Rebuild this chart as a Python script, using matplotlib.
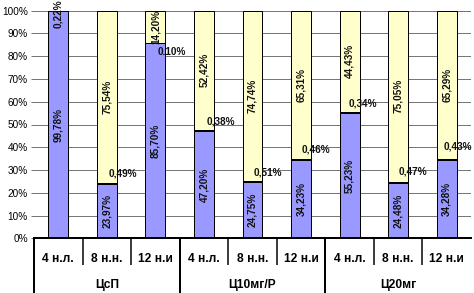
import matplotlib
matplotlib.use('Agg')
import matplotlib.pyplot as plt
from matplotlib import font_manager
import numpy as np

font_manager.fontManager.ttflist = [f for f in font_manager.fontManager.ttflist
                                    if 'narrow' not in f.fname.lower()]
plt.rcParams['font.family'] = ['Liberation Sans', 'DejaVu Sans']

groups = ['ЦсП', 'Ц10мг/Р', 'Ц20мг']
weeks = ['4 н.л.', '8 н.н.', '12 н.и']
blue = [99.78, 23.97, 85.70, 47.20, 24.75, 34.23, 55.23, 24.48, 34.28]
mid = [0.22, 0.49, 0.10, 0.38, 0.51, 0.46, 0.34, 0.47, 0.43]
yellow = [0.00, 75.54, 14.20, 52.42, 74.74, 65.31, 44.43, 75.05, 65.29]
yticks = [0, 10, 20, 30, 40, 50, 60, 70, 80, 90, 100]

# label offsets (pixels) for the middle series labels, as in the reference
mid_offsets = [(0, -3), (16.5, 9.5), (16, -9.4), (17, 8.7), (15.6, 8.8),
               (15, 10), (13.4, 8.5), (15, 10.5), (11.3, 13)]


def fmt(v, sep=','):
    return f'{v:.2f}'.replace('.', sep) + '%'


W, H = 474, 293
fig = plt.figure(figsize=(W / 72, H / 72), dpi=72)
left, right, top, bottom = 34, 471, 10.7, 238.3
ax = fig.add_axes([left / W, (H - bottom) / H, (right - left) / W, (bottom - top) / H])

n = len(blue)
x = np.arange(n)
width = 0.41
b = np.array(blue)
m = np.array(mid)
y = np.array(yellow)

ax.bar(x, b, width, color='#9999FF', edgecolor='black', linewidth=1, zorder=3)
ax.bar(x, m, width, bottom=b, color='#993366', edgecolor='black', linewidth=1, zorder=3)
ax.bar(x, y, width, bottom=b + m, color='#FFFFCC', edgecolor='black', linewidth=1, zorder=3)

ax.set_xlim(-0.5, n - 0.5)
ax.set_ylim(0, 100)
ax.set_yticks(yticks)
ax.set_yticklabels([f'{v}%' for v in yticks], fontsize=10)
ax.set_xticks([])
ax.yaxis.grid(True, color='#555555', linewidth=0.8, zorder=0)
ax.set_axisbelow(True)
for s in ['left', 'right', 'top']:
    ax.spines[s].set_visible(False)
ax.spines['bottom'].set_linewidth(2)
ax.spines['bottom'].set_zorder(5)
ax.tick_params(axis='y', length=3, width=0.8, color='#555555', pad=3)

lab = dict(fontsize=10, fontweight='bold', color='#111111', zorder=6)
for i in range(n):
    ax.text(i, b[i] / 2, fmt(b[i]), rotation=90, ha='center', va='center', **lab)
    if y[i] > 0:
        ax.text(i, b[i] + m[i] + y[i] / 2, fmt(y[i]), rotation=90, ha='center',
                va='center', **lab)
    dx, dy = mid_offsets[i]
    if y[i] > 0:
        lbl = fmt(m[i], '.') if i == 2 else fmt(m[i])
        ax.annotate(lbl, (i, b[i] + m[i]), xytext=(dx, dy), textcoords='offset points',
                    ha='center', va='center', annotation_clip=False, **lab)
    else:
        ax.annotate(fmt(m[i]), (i, b[i] + m[i]), xytext=(dx, dy), textcoords='offset points',
                    ha='center', va='center', rotation=90, annotation_clip=False, **lab)

# multi-level category axis
tr = ax.get_xaxis_transform()
ph = bottom - top
cat_y = -(259 - bottom) / ph
grp_y = -(285 - bottom) / ph
sep_short = -(265 - bottom) / ph
sep_long = -(H - bottom) / ph
ngroup = len(weeks)
for i in range(n):
    ax.text(i, cat_y, weeks[i % ngroup], transform=tr, ha='center', va='center',
            fontsize=12, fontweight='bold')
for g, name in enumerate(groups):
    ax.text(g * ngroup + (ngroup - 1) / 2, grp_y, name, transform=tr, ha='center',
            va='center', fontsize=12, fontweight='bold')
for k in range(n):
    xs = k - 0.5
    if k % ngroup == 0:
        ax.plot([xs, xs], [0, sep_long], transform=tr, color='black', lw=2,
                clip_on=False, solid_capstyle='butt')
    else:
        ax.plot([xs, xs], [0, sep_short], transform=tr, color='black', lw=1.5,
                clip_on=False, solid_capstyle='butt')

fig.savefig('out.png', dpi=72)
